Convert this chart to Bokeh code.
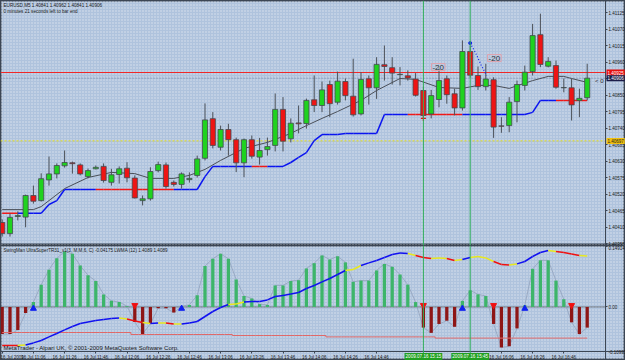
from bokeh.plotting import figure
from bokeh.layouts import column
from bokeh.models import (Range1d, FixedTicker, PrintfTickFormatter, Span, Label,
                          BoxAnnotation, ColumnDataSource)
from bokeh.embed import file_html
from bokeh.resources import INLINE

# ---------------- data ----------------
bars = list(range(76))
opens = [1.40425, 1.40388, 1.40445, 1.40443, 1.40515, 1.40498, 1.40567, 1.40587, 1.40614, 1.40624,
         1.40617, 1.40578, 1.40604, 1.40612, 1.40559, 1.40585, 1.40606, 1.40573, 1.40498, 1.40504,
         1.40598, 1.40617, 1.40559, 1.40552, 1.40568, 1.40582, 1.40639, 1.40771, 1.40676, 1.40735,
         1.40701, 1.40624, 1.40701, 1.40643, 1.40668, 1.40682, 1.40802, 1.40704, 1.40757, 1.40755,
         1.40834, 1.40815, 1.40885, 1.40826, 1.40895, 1.40846, 1.40787, 1.40904, 1.40874, 1.40951,
         1.40941, 1.40918, 1.40914, 1.40903, 1.40865, 1.40787, 1.40835, 1.40904, 1.40854, 1.40807,
         1.40995, 1.40915, 1.40878, 1.40901, 1.40747, 1.40748, 1.40828, 1.40882, 1.40928, 1.41051,
         1.40946, 1.40948, 1.40874, 1.40874, 1.40832, 1.40841]
highs = [1.40435, 1.40455, 1.40462, 1.40518, 1.40548, 1.40589, 1.40645, 1.40622, 1.40665, 1.40628,
         1.40622, 1.40605, 1.40615, 1.40622, 1.40604, 1.40612, 1.40626, 1.40582, 1.40515, 1.40609,
         1.40628, 1.40625, 1.40565, 1.40592, 1.40592, 1.40648, 1.40822, 1.40793, 1.40748, 1.40754,
         1.40708, 1.40705, 1.40715, 1.40707, 1.40708, 1.40855, 1.40843, 1.40772, 1.40815, 1.40838,
         1.40915, 1.40895, 1.40898, 1.40928, 1.40905, 1.40971, 1.40926, 1.40915, 1.40976, 1.41015,
         1.40976, 1.40943, 1.40932, 1.40923, 1.40878, 1.40867, 1.40938, 1.40915, 1.40871, 1.41032,
         1.41015, 1.40945, 1.40954, 1.40909, 1.40776, 1.40843, 1.40898, 1.40948, 1.41087, 1.41121,
         1.40976, 1.40965, 1.40905, 1.40904, 1.40871, 1.40954]
lows = [1.40378, 1.40378, 1.40432, 1.40409, 1.40488, 1.40495, 1.40548, 1.40572, 1.40608, 1.40588,
        1.40582, 1.40572, 1.40602, 1.40558, 1.40548, 1.40555, 1.40559, 1.40505, 1.40482, 1.40498,
        1.40592, 1.40538, 1.40545, 1.40538, 1.40558, 1.40575, 1.40632, 1.40672, 1.40665, 1.40648,
        1.40593, 1.40576, 1.40638, 1.40618, 1.40648, 1.40662, 1.40662, 1.40692, 1.40722, 1.40738,
        1.40793, 1.40793, 1.40776, 1.40818, 1.40832, 1.40778, 1.40782, 1.40818, 1.40837, 1.40898,
        1.40885, 1.40882, 1.40898, 1.40845, 1.40772, 1.40772, 1.40809, 1.40821, 1.40782, 1.40798,
        1.40908, 1.40867, 1.40865, 1.40707, 1.40724, 1.40726, 1.40759, 1.40865, 1.40915, 1.40943,
        1.40942, 1.40871, 1.40859, 1.40765, 1.40776, 1.40832]
closes = [1.40388, 1.40442, 1.40448, 1.40515, 1.40496, 1.40571, 1.40587, 1.40615, 1.40625, 1.40621,
          1.40587, 1.40598, 1.40609, 1.40565, 1.40584, 1.40604, 1.40574, 1.40507, 1.40504, 1.40595,
          1.40618, 1.40545, 1.40552, 1.40587, 1.40572, 1.40637, 1.40767, 1.40682, 1.40735, 1.40701,
          1.40624, 1.40701, 1.40646, 1.40665, 1.40678, 1.40802, 1.40696, 1.40756, 1.40754, 1.40832,
          1.40815, 1.40867, 1.40821, 1.40896, 1.40848, 1.40784, 1.40902, 1.40874, 1.40952, 1.40945,
          1.40923, 1.40919, 1.40907, 1.40849, 1.40782, 1.40848, 1.40898, 1.40851, 1.40807, 1.40995,
          1.40916, 1.40878, 1.40903, 1.40743, 1.40746, 1.40826, 1.40885, 1.40926, 1.41048, 1.40952,
          1.40962, 1.40876, 1.40875, 1.40817, 1.40839, 1.40906]

# moving average (read at selected bars)
ma_bars = [0, 4, 5, 8, 11, 14, 17, 19, 22, 24, 26, 28, 31, 34, 37, 39, 41, 43, 46, 48, 51, 53, 56,
           59, 61, 63, 65, 68, 70, 72, 73, 75]
ma_vals = [1.40468, 1.40468, 1.40478, 1.40538, 1.40575, 1.40592, 1.40588, 1.40572, 1.40572, 1.40582,
           1.40602, 1.40632, 1.40672, 1.40692, 1.40722, 1.40748, 1.40772, 1.40795, 1.40832, 1.40865,
           1.40905, 1.40902, 1.40875, 1.40872, 1.40882, 1.40882, 1.40872, 1.40898, 1.40912, 1.40912,
           1.40905, 1.40892]

# step trend line (value per bar) and segment state (segment i -> i+1)
trend_vals = ([1.40456] * 6 + [1.40485, 1.40498] + [1.40535] * 18 + [1.40578] + [1.40612] * 10 +
              [1.40625, 1.40642, 1.40658, 1.40698] + [1.40718] * 3 + [1.40722] * 5 +
              [1.40785] * 19 + [1.40792] + [1.40832] * 7)
trend_up = (["dn"] * 2 + ["up"] * 10 + ["dn"] * 10 + ["up"] * 10 + ["dn"] * 2 + ["up"] * 18 +
            ["dn"] * 7 + ["up"] * 12 + ["dn"] * 5)

red_level = 1.40925
yellow_level = 1.40697
price_ticks = [1.41125, 1.41070, 1.41015, 1.40960, 1.40905, 1.40850, 1.40795, 1.40740, 1.40685,
               1.40630, 1.40575, 1.40520, 1.40465, 1.40410, 1.40355]

# oscillator histogram
hist = [-0.067, -0.067, -0.057, -0.015, 0.012, 0.055, 0.092, 0.120, 0.137, 0.131,
        0.102, 0.078, 0.064, 0.031, 0.015, 0.012, 0.002, -0.037, -0.067, -0.041,
        -0.003, -0.003, -0.014, 0.002, 0.005, 0.029, 0.101, 0.119, 0.131, 0.119,
        0.068, 0.027, 0.021, 0.007, 0.005, 0.053, 0.053, 0.064, 0.066, 0.095,
        0.108, 0.127, 0.117, 0.125, 0.110, 0.062, 0.065, 0.065, 0.090, 0.106,
        0.099, 0.080, 0.055, 0.012, -0.051, -0.064, -0.042, -0.034, -0.049, 0.015,
        0.041, 0.031, 0.027, -0.042, -0.100, -0.097, -0.053, 0.004, 0.094, 0.115,
        0.115, 0.065, 0.019, -0.038, -0.067, -0.051]
osc_max, osc_min = 0.14914, -0.10995
arrow_up_bars = [4, 23, 59, 67]
arrow_dn_bars = [17, 54, 63, 73]

# LWMA(12) drawn in the oscillator window on its own price scale
lwma = [1.40440, 1.40440, 1.40440, 1.40443, 1.40453, 1.40465, 1.40483, 1.40500, 1.40518, 1.40535,
        1.40550, 1.40558, 1.40565, 1.40570, 1.40575, 1.40577, 1.40573, 1.40563, 1.40555, 1.40550,
        1.40553, 1.40553, 1.40548, 1.40548, 1.40553, 1.40560, 1.40585, 1.40610, 1.40630, 1.40645,
        1.40648, 1.40658, 1.40660, 1.40660, 1.40668, 1.40685, 1.40690, 1.40698, 1.40705, 1.40725,
        1.40740, 1.40758, 1.40775, 1.40795, 1.40815, 1.40820, 1.40840, 1.40853, 1.40865, 1.40880,
        1.40895, 1.40903, 1.40900, 1.40890, 1.40880, 1.40875, 1.40878, 1.40875, 1.40865, 1.40870,
        1.40880, 1.40885, 1.40878, 1.40860, 1.40845, 1.40843, 1.40848, 1.40860, 1.40885, 1.40905,
        1.40915, 1.40910, 1.40905, 1.40898, 1.40890, 1.40888]
lwma_state = (["r"] * 2 + ["y"] + ["b"] * 12 + ["y"] + ["r"] * 2 + ["y", "b", "y", "r", "y"] +
              ["b"] * 6 + ["y"] * 2 + ["b"] * 13 + ["y"] * 2 + ["b"] * 6 + ["y"] + ["r"] * 2 +
              ["y"] * 2 + ["r", "y", "b"] + ["y"] * 3 + ["r"] * 2 + ["y"] + ["b"] * 4 + ["y"] +
              ["r"] * 3 + ["y"])
slow_line = [1.40505] * 17 + [1.40495] * 13 + [1.40490] * 12 + [1.40483] * 14 + [1.40477] * 20

tick_bars = [0, 4, 8, 12, 16, 20, 24, 28, 32, 36, 40, 44, 48, 64, 68, 72]
tick_texts = ["16 Jul 2009", "16 Jul 11:06", "16 Jul 11:26", "16 Jul 11:46", "16 Jul 12:06",
              "16 Jul 12:26", "16 Jul 12:46", "16 Jul 13:06", "16 Jul 13:26", "16 Jul 13:46",
              "16 Jul 14:06", "16 Jul 14:26", "16 Jul 14:46", "16 Jul 16:06", "16 Jul 16:26",
              "16 Jul 16:46"]
vline_bars = [54, 60]
vline_texts = ["2009.07.16 15:15", "2009.07.16 15:45"]
note_bars = [55.9, 63.1]
note_prices = [1.40943, 1.40973]
note_texts = ["-20", "-20"]

# ---------------- layout constants ----------------
BG = "#AFC3DD"
EDGE = "#3C4654"
FONT = "Liberation Sans"
GREEN = "#1FD21F"
RED = "#EE1414"
W = 625
PX_BAR = 7.8          # pixels per bar
BAR0_PX = 1.7         # pixel of bar 0
AXIS_PX = 605         # pixel of price-axis line
MAIN_H, OSC_H = 245, 115
x0 = -BAR0_PX / PX_BAR
x_range = Range1d(x0, x0 + W / PX_BAR)
axis_x = x0 + AXIS_PX / PX_BAR

main_top = 1.41165
main_range = Range1d(main_top - MAIN_H / 30000.0, main_top)
osc_px = 105.0 / (osc_max - osc_min)
osc_range = Range1d(osc_min - 9.0 / osc_px, osc_max + 1.0 / osc_px)
lw_top = 1.40940
lw_range = Range1d(lw_top - OSC_H / 20000.0, lw_top)


def style_axis(ax):
    ax.major_label_text_font_size = "4.5px"
    ax.major_label_text_font = FONT
    ax.major_label_text_color = "#1A1A1A"
    ax.major_tick_out = 2
    ax.major_tick_in = 0
    ax.minor_tick_line_color = None
    ax.axis_line_color = EDGE
    ax.major_tick_line_color = EDGE
    ax.major_label_standoff = 1


def texture(fig):
    fig.add_layout(BoxAnnotation(fill_alpha=0, line_alpha=0, hatch_pattern="dot",
                                 hatch_color="white", hatch_alpha=0.55, hatch_scale=3,
                                 level="underlay"))


# ---------------- main price panel ----------------
p = figure(frame_width=W, frame_height=MAIN_H, x_range=x_range, y_range=main_range,
           y_axis_location="right", x_axis_location=None, output_backend="svg",
           toolbar_location=None, min_border=0, background_fill_color=BG,
           border_fill_color=BG, outline_line_color=EDGE, outline_line_width=2)
p.grid.visible = False
texture(p)
ya = p.yaxis[0]
ya.fixed_location = axis_x
ya.ticker = FixedTicker(ticks=price_ticks)
ya.formatter = PrintfTickFormatter(format="%.5f")
style_axis(ya)

p.segment(x0=[x0], x1=[axis_x], y0=[yellow_level], y1=[yellow_level], line_color="#E8E010",
          line_dash="2 2", line_width=1)
p.segment(x0=[x0], x1=[axis_x], y0=[red_level], y1=[red_level], line_color="#F02828",
          line_width=1)
p.segment(x0=[x0], x1=[axis_x], y0=[closes[-1]], y1=[closes[-1]], line_color="#7888A0",
          line_dash="1 2", line_width=1)
for b in vline_bars:
    p.add_layout(Span(location=b, dimension="height", line_color="#2FAE5A", line_width=1))

# trend step line
seg_x0, seg_x1, seg_y0, seg_y1, seg_c = [], [], [], [], []
for i in range(len(bars) - 1):
    seg_x0.append(bars[i]); seg_x1.append(bars[i + 1])
    seg_y0.append(trend_vals[i]); seg_y1.append(trend_vals[i + 1])
    seg_c.append("#0A14F0" if trend_up[i] == "up" else "#F01818")
p.segment(x0=seg_x0, y0=seg_y0, x1=seg_x1, y1=seg_y1, line_color=seg_c, line_width=1.5)

p.line(ma_bars, ma_vals, line_color="#4A4F58", line_width=1)

top = [max(o, c) for o, c in zip(opens, closes)]
bot = [min(o, c) for o, c in zip(opens, closes)]
col = [GREEN if c >= o else RED for o, c in zip(opens, closes)]
src = ColumnDataSource(dict(x=bars, h=highs, l=lows, top=top, bot=bot, col=col))
p.segment(x0="x", y0="h", x1="x", y1="l", source=src, line_color="#4B5058", line_width=1)
p.vbar(x="x", width=0.66, top="top", bottom="bot", fill_color="col", line_color="#444A50",
       line_width=0.8, source=src)

p.scatter([54], [lows[54]], marker="cross", size=5, line_color="#E01010", line_width=1.2)
p.line([60, 60.7, 61.4, 62.1], [1.41023, 1.40990, 1.40950, 1.40915], line_color="#1020F0",
       line_dash="1 2", line_width=1.2)
p.scatter([60], [1.41023], marker="circle", size=3, fill_color="#1020F0", line_color="#1020F0")

for b, pr, t in zip(note_bars, note_prices, note_texts):
    p.add_layout(Label(x=b, y=pr, text=t, text_align="center", text_baseline="middle",
                       text_font=FONT, text_font_size="8px", text_color="#303030",
                       border_line_color="#E0A0AC", border_line_width=1, padding=1))

p.add_layout(Label(x=x0, y=main_top, x_offset=3, y_offset=-2,
                   text="EURUSD,M5  1.40841 1.40962 1.40841 1.40906", text_font=FONT,
                   text_font_size="4.6px", text_color="#1A1A1A", text_baseline="top"))
p.add_layout(Label(x=x0, y=main_top, x_offset=3, y_offset=-8,
                   text="0 minutes 21 seconds left to bar end", text_font=FONT,
                   text_font_size="4.6px", text_color="#1A1A1A", text_baseline="top"))
p.add_layout(Label(x=76.0, y=1.40898, text="< 0", text_font=FONT, text_font_size="6px",
                   text_color="#2A2A2A", text_baseline="middle"))
for lvl, txt, bg, fg in [(red_level, "1.40925", "#E81010", "white"),
                         (closes[-1], "1.40906", "#1C1C48", "white"),
                         (yellow_level, "1.40697", "#F0C010", "#1A1A1A")]:
    p.add_layout(Label(x=axis_x, y=lvl, x_offset=1, text=txt, text_font=FONT,
                       text_font_size="4.5px", text_color=fg, text_baseline="middle",
                       background_fill_color=bg, padding=1))

# ---------------- oscillator panel ----------------
q = figure(frame_width=W, frame_height=OSC_H, x_range=x_range, y_range=osc_range,
           y_axis_location="right", output_backend="svg", toolbar_location=None,
           min_border=0, background_fill_color=BG, border_fill_color=BG,
           outline_line_color=EDGE, outline_line_width=2)
q.extra_y_ranges = {"lw": lw_range}
q.grid.visible = False
texture(q)
qa = q.yaxis[0]
qa.fixed_location = axis_x
qa.ticker = FixedTicker(ticks=[osc_max, 0.0, osc_min])
qa.major_label_overrides = {osc_max: "0.14914", 0.0: "0.00", osc_min: "-0.10995"}
style_axis(qa)
xa = q.xaxis[0]
xa.fixed_location = osc_min
xa.ticker = FixedTicker(ticks=tick_bars)
xa.major_label_overrides = {b: t for b, t in zip(tick_bars, tick_texts)}
style_axis(xa)
xa.major_label_text_align = "left"

q.segment(x0=[x0], x1=[axis_x], y0=[0], y1=[0], line_color="#202020", line_dash="1 1",
          line_width=1)
for b in vline_bars:
    q.add_layout(Span(location=b, dimension="height", line_color="#2FAE5A", line_width=1))

hcol = ["#3DB56A" if v >= 0 else "#8E1616" for v in hist]
q.line(bars, hist, line_color="#8E9DB8", line_width=0.8, line_alpha=0.9)
q.vbar(x=bars, top=hist, bottom=0, width=0.42, fill_color=hcol, line_color=None)

q.step(bars, slow_line, mode="center", y_range_name="lw", line_color="#E06868", line_width=1)
cmap = {"b": "#1010F0", "y": "#E8E820", "r": "#F01010"}
lx0, lx1, ly0, ly1, lc = [], [], [], [], []
for i in range(len(bars) - 1):
    lx0.append(bars[i]); lx1.append(bars[i + 1])
    ly0.append(lwma[i]); ly1.append(lwma[i + 1])
    lc.append(cmap[lwma_state[i]])
q.segment(x0=lx0, y0=ly0, x1=lx1, y1=ly1, line_color=lc, line_width=1.5, y_range_name="lw")

q.scatter(arrow_up_bars, [-0.004] * len(arrow_up_bars), marker="triangle", size=6,
          fill_color="#1020F0", line_color="#1020F0")
q.scatter(arrow_dn_bars, [0.004] * len(arrow_dn_bars), marker="inverted_triangle", size=6,
          fill_color="#F01010", line_color="#F01010")

q.add_layout(Label(x=x0, y=osc_max, x_offset=3, y_offset=-1,
                   text="SwingMan UltraSuperTR31_v1(3, M,M,6, C) -0.04175   LWMA (12)  1.4089  1.4089",
                   text_font=FONT, text_font_size="4.6px", text_color="#1A1A1A",
                   text_baseline="top"))
q.add_layout(Label(x=x0, y=osc_min, x_offset=3, y_offset=1,
                   text="MetaTrader - Alpari UK, \u00a9 2001-2009 MetaQuotes Software Corp.",
                   text_font=FONT, text_font_size="6px", text_color="#1A1A1A",
                   text_baseline="bottom"))
for b, t in zip(vline_bars, vline_texts):
    q.add_layout(Label(x=b, y=osc_min, y_offset=-5, text=t, text_align="center",
                       text_baseline="middle", text_font=FONT, text_font_size="4.6px",
                       text_color="white", background_fill_color="#21A021", padding=1))

layout = column(p, q, spacing=0)
open("out.html", "w").write(file_html(layout, INLINE))
